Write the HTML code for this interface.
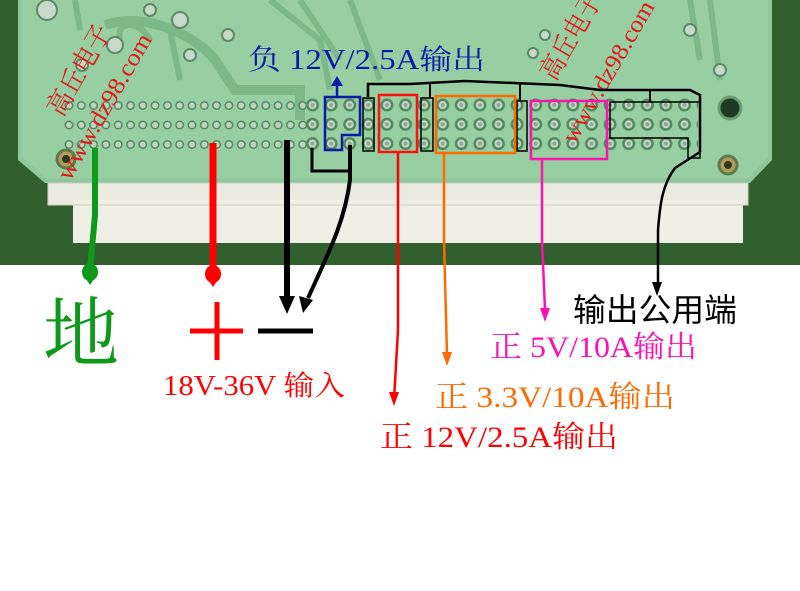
<!DOCTYPE html>
<html><head><meta charset="utf-8"><style>
html,body{margin:0;padding:0;background:#fff;width:800px;height:591px;overflow:hidden}
svg{display:block}
.s{font-family:"Liberation Serif","Noto Serif CJK SC",serif}
</style></head><body>
<svg width="800" height="591" viewBox="0 0 800 591" xmlns="http://www.w3.org/2000/svg">
<defs>
<pattern id="pa" x="63" y="96" width="12.3" height="19.5" patternUnits="userSpaceOnUse">
<circle cx="6" cy="9.5" r="4.5" fill="#4f8a5c"/><circle cx="6" cy="9.5" r="3" fill="#c2d2c2"/></pattern>
<pattern id="pb" x="303" y="95" width="18.6" height="19.3" patternUnits="userSpaceOnUse">
<circle cx="9.5" cy="10" r="6.5" fill="#4f8a5c"/><circle cx="9.5" cy="10" r="4" fill="#c9d6c9"/><circle cx="9.5" cy="10" r="2" fill="#8aa890"/></pattern>
</defs>
<rect width="800" height="265" fill="#2f5a2b"/>
<rect x="0" y="0" width="800" height="265" fill="#3a6a33" opacity=".35"/>
<path d="M18,0H772V160L750,183H45L18,160Z" fill="#8ec79a"/>
<path d="M22,0H768V157L748,179H47L22,157Z" fill="#97cfa2"/>
<path d="M75,0L80,30 M120,40C115,20 140,20 150,40 M170,30L180,80 M270,0L320,40L330,90 M300,0L340,60 M350,0L380,80 M690,0L700,60 M710,0L720,80" stroke="#7cb888" stroke-width="6" fill="none"/>
<path d="M105,25C150,10 200,40 215,60L235,90H300V120" stroke="#7cb888" stroke-width="10" fill="none"/>
<g fill="#c9d9c9" stroke="#5b8a64" stroke-width="2">
<circle cx="47" cy="10" r="10"/><circle cx="180" cy="20" r="8"/><circle cx="115" cy="45" r="8"/>
<circle cx="82" cy="65" r="6"/><circle cx="190" cy="55" r="6"/><circle cx="545" cy="35" r="5"/>
<circle cx="533" cy="53" r="5"/><circle cx="720" cy="70" r="6"/><circle cx="690" cy="30" r="6"/>
<circle cx="150" cy="10" r="6"/><circle cx="228" cy="35" r="6"/>
</g>
<circle cx="730" cy="108" r="11" fill="#1d3a22" stroke="#6a9c72" stroke-width="3"/>
<circle cx="66" cy="159" r="9" fill="#b59a58" stroke="#5d7a4e" stroke-width="3"/>
<circle cx="66" cy="159" r="4" fill="#2a3a22"/>
<circle cx="728" cy="165" r="9" fill="#b59a58" stroke="#5d7a4e" stroke-width="3"/>
<circle cx="728" cy="165" r="4" fill="#2a3a22"/>
<rect x="63" y="96" width="246" height="58.5" fill="url(#pa)"/>
<rect x="303" y="95" width="395" height="58" fill="url(#pb)"/>
<rect x="48" y="183" width="700" height="22" fill="#eaeae0"/>
<rect x="73" y="200" width="670" height="43" fill="#f0efe6"/>
<rect x="48" y="183" width="700" height="22" fill="none" stroke="#cfcfc2"/>
<g fill="#e21a1a" class="s">
<text transform="translate(62,118) rotate(-60)" font-size="27" textLength="100" lengthAdjust="spacingAndGlyphs">高丘电子</text>
<text transform="translate(70,182) rotate(-60)" font-size="24" textLength="165" lengthAdjust="spacingAndGlyphs">www.dz98.com</text>
<text transform="translate(555,82) rotate(-60)" font-size="27" textLength="95" lengthAdjust="spacingAndGlyphs">高丘电子</text>
<text transform="translate(575,145) rotate(-60)" font-size="24" textLength="160" lengthAdjust="spacingAndGlyphs">www.dz98.com</text>
</g>
<path d="M325,97H360V135H342V150H325Z" fill="none" stroke="#0a1aa8" stroke-width="2.5"/>
<path d="M337,97V84" stroke="#0a1aa8" stroke-width="2.5"/>
<path d="M331,86L337,76L343,86Z" fill="#0a1aa8"/>
<g fill="none" stroke="#000" stroke-width="1.5">
<rect x="363" y="98" width="11" height="53"/>
<rect x="421" y="98" width="12" height="53"/>
<rect x="517" y="101" width="10" height="50"/>
<path d="M610,102H700V158H688V138H610Z"/>
</g>
<rect x="379" y="95" width="38" height="57" fill="none" stroke="#ff1010" stroke-width="2.5"/>
<rect x="436" y="96" width="79" height="57" fill="none" stroke="#ff6a00" stroke-width="2.5"/>
<rect x="531" y="101" width="76" height="58" fill="none" stroke="#ff10b0" stroke-width="2.5"/>
<path d="M368,97V84H410L465,81L560,85L600,90H690L700,95V152" fill="none" stroke="#000" stroke-width="2.5"/>
<path d="M430,83V98 M520,83V100 M650,90V102" stroke="#000" stroke-width="2"/>
<path d="M312,148V171H350" fill="none" stroke="#000" stroke-width="3"/>
<path d="M350,145V180C345,220 330,250 308,298" fill="none" stroke="#000" stroke-width="4"/>
<path d="M299,296L303,313L313,300Z" fill="#000"/>
<path d="M287,140V300" stroke="#000" stroke-width="6"/>
<path d="M279,296L287,314L295,296Z" fill="#000"/>
<path d="M95,148V215L90,270" stroke="#0d9a1a" stroke-width="6"/>
<ellipse cx="90" cy="272" rx="8" ry="9" fill="#0d9a1a"/>
<path d="M84,276L90,285L96,276Z" fill="#0d9a1a"/>
<path d="M213,143V272" stroke="#ff0000" stroke-width="7"/>
<ellipse cx="213" cy="274" rx="8" ry="9" fill="#ff0000"/>
<path d="M207,278L213,287L219,278Z" fill="#ff0000"/>
<path d="M398,152V330L394,400" fill="none" stroke="#ff0000" stroke-width="2.5"/>
<path d="M389,392L394,406L399,392Z" fill="#ff0000"/>
<path d="M444,153V240L447,355" fill="none" stroke="#ff6a00" stroke-width="2.5"/>
<path d="M442,352L447,366L452,352Z" fill="#ff6a00"/>
<path d="M542,159V240L545,310" fill="none" stroke="#ff10b0" stroke-width="2.5"/>
<path d="M540,308L545,322L550,308Z" fill="#ff10b0"/>
<path d="M700,152L675,168C662,185 660,205 658,230V285" fill="none" stroke="#000" stroke-width="2.5"/>
<path d="M652,282L657,296L662,282Z" fill="#000"/>
<text x="248" y="69" class="s" font-size="28" fill="#0a1aa8" textLength="237" lengthAdjust="spacingAndGlyphs">负 12V/2.5A输出</text>
<text x="43" y="360" class="s" font-size="76" fill="#0d9a1a">地</text>
<path d="M190,331H243M217,302V360" stroke="#ff0000" stroke-width="5"/>
<path d="M258,331H313" stroke="#000" stroke-width="5"/>
<text x="163" y="395" class="s" font-size="28" fill="#ff0000" textLength="182" lengthAdjust="spacingAndGlyphs">18V-36V 输入</text>
<text x="380" y="447" class="s" font-size="30" fill="#ff0000" textLength="238" lengthAdjust="spacingAndGlyphs">正 12V/2.5A输出</text>
<text x="435" y="407" class="s" font-size="30" fill="#ff6a00" textLength="240" lengthAdjust="spacingAndGlyphs">正 3.3V/10A输出</text>
<text x="490" y="357" class="s" font-size="30" fill="#ff10b0" textLength="207" lengthAdjust="spacingAndGlyphs">正 5V/10A输出</text>
<text x="573" y="321" font-family="Liberation Sans,'Noto Sans CJK SC',sans-serif" font-size="32" fill="#000" textLength="164" lengthAdjust="spacingAndGlyphs">输出公用端</text>
</svg>
</body></html>
